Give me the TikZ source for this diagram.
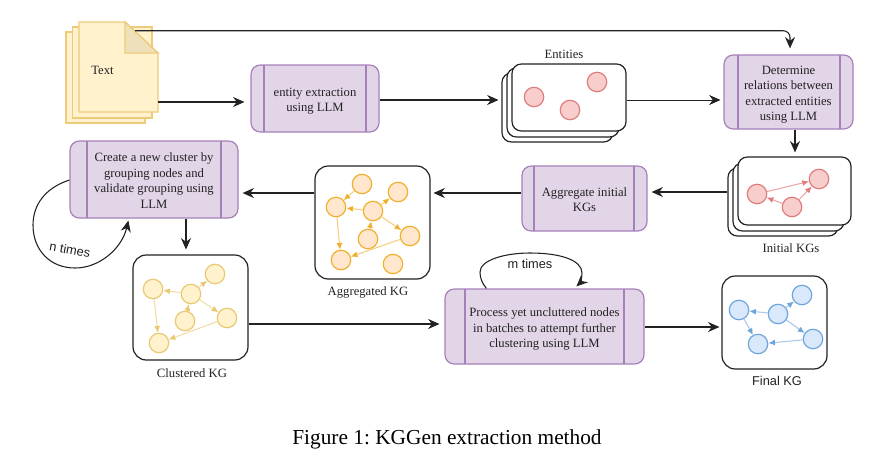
\documentclass[tikz,border=0pt]{standalone}
\usepackage{fontspec}
\usetikzlibrary{arrows.meta,calc}
\newfontfamily\boxfont{Liberation Serif}
\newfontfamily\labfont{Liberation Sans}
\frenchspacing
\definecolor{purF}{HTML}{E1D5E7}\definecolor{purS}{HTML}{A680B8}
\definecolor{docF}{HTML}{FFF2CC}\definecolor{docS}{HTML}{EDCB7A}\definecolor{docD}{HTML}{EFE0BC}
\definecolor{redF}{HTML}{F8CECC}\definecolor{redS}{HTML}{E07C7C}\definecolor{redE}{HTML}{EFA6A6}
\definecolor{oraF}{HTML}{FFE6CC}\definecolor{oraS}{HTML}{EFB02E}\definecolor{oraE}{HTML}{F5CF80}
\definecolor{yelF}{HTML}{FFF2CC}\definecolor{yelS}{HTML}{E8C870}\definecolor{yelE}{HTML}{F0DFA8}
\definecolor{bluF}{HTML}{DAE8FC}\definecolor{bluS}{HTML}{6FA5DD}\definecolor{bluE}{HTML}{A9C8EA}
\definecolor{ink}{HTML}{222222}
\tikzset{
  x=0.75pt,y=-0.75pt,
  proc/.style={draw=purS,fill=purF,line width=0.9pt,rounded corners=7pt,inner sep=0pt,font=\boxfont\fontsize{9.5}{11.6}\selectfont,text=ink},
  panel/.style={draw=ink,fill=white,line width=0.9pt,rounded corners=#1,inner sep=0pt},
  conn/.style={draw=ink,line width=0.8pt,-{Stealth[length=8.5pt,width=7.5pt]}},
  loopconn/.style={draw=ink,line width=0.8pt,-{Stealth[length=8.5pt,width=7.5pt]}},
  caplab/.style={font=\boxfont\fontsize{9.5}{11}\selectfont,text=ink,inner sep=0pt},
  sanslab/.style={font=\labfont\fontsize{9.6}{11}\selectfont,text=ink,inner sep=0pt},
  sheet/.style={draw=docS,fill=docF,line width=1pt,inner sep=0pt},
  kgnode/.style={circle,inner sep=0pt,minimum size=14.6pt,line width=0.9pt},
  rednode/.style={kgnode,draw=redS,fill=redF},
  oranode/.style={kgnode,draw=oraS,fill=oraF},
  yelnode/.style={kgnode,draw=yelS,fill=yelF},
  blunode/.style={kgnode,draw=bluS,fill=bluF},
  rededge/.style={draw=redE,line width=0.8pt,-{Latex[length=5pt,width=4.5pt,color=redS]}},
  oraedge/.style={draw=oraE,line width=0.8pt,-{Latex[length=5pt,width=4.5pt,color=oraS]}},
  yeledge/.style={draw=yelE,line width=0.8pt,-{Latex[length=5pt,width=4.5pt,color=yelS]}},
  bluedge/.style={draw=bluE,line width=0.8pt,-{Latex[length=5pt,width=4.5pt,color=bluS]}},
}
% name, x1, y1, x2, y2, inner left, inner right, text
\newcommand{\procbox}[8]{%
  \node[proc,minimum width={(#4-#2)*0.75pt},minimum height={(#5-#3)*0.75pt}] (#1) at ({(#2+#4)/2},{(#3+#5)/2}) {\raisebox{-4.2pt}[0pt][0pt]{\begin{tabular}{@{}c@{}}#8\end{tabular}}};
  \draw[purS,line width=0.9pt] (#6,#3) -- (#6,#5) (#7,#3) -- (#7,#5);
}
% name, x1, y1, x2, y2, radius
\newcommand{\panelbox}[6]{%
  \node[panel=#6,minimum width={(#4-#2)*0.75pt},minimum height={(#5-#3)*0.75pt}] (#1) at ({(#2+#4)/2},{(#3+#5)/2}) {};
}
\begin{document}
\begin{tikzpicture}
\useasboundingbox (0,0) rectangle (896,465);
\fill[white] (0,0) rectangle (896,465);

% Text document stack
\draw[sheet] (66,32) rectangle (145,123);
\draw[sheet] (72.5,27) rectangle (152,118);
\node[minimum width=59.25pt,minimum height=67.5pt,inner sep=0pt] (doc) at (118.5,67) {};
\draw[sheet] (79,22) -- (125,22) -- (158,53) -- (158,112) -- (79,112) -- cycle;
\draw[sheet,fill=docD] (125,22) -- (158,53) -- (125,53) -- cycle;
\node[caplab] (doctext) at (102.5,70) {Text};

% Process boxes
\procbox{ent}{251}{65}{379}{132}{264}{366}{entity extraction\\using LLM}
\procbox{det}{724}{55}{853}{129}{738}{840}{Determine\\relations between\\extracted entities\\using LLM}
\procbox{agg}{522}{166}{647}{231}{534}{634}{Aggregate initial\\KGs}
\procbox{create}{70}{141}{238}{218}{87}{221}{Create a new cluster by\\grouping nodes and\\validate grouping using\\LLM}
\procbox{proc}{445}{289}{644}{364}{465}{624}{Process yet uncluttered nodes\\in batches to attempt further\\clustering using LLM}

% Entities
\panelbox{entB}{502}{73}{613}{142}{7pt}
\panelbox{entM}{507}{68}{619}{137}{7pt}
\panelbox{entF}{512}{64}{626}{131}{7pt}
\node[caplab] (entlab) at (564,54) {Entities};
\node[rednode] (e1) at (534,97) {};
\node[rednode] (e2) at (597,82) {};
\node[rednode] (e3) at (570,110) {};

% Initial KGs
\panelbox{ikgB}{728}{168}{838}{236}{7pt}
\panelbox{ikgM}{733}{163}{844}{231}{7pt}
\panelbox{ikgF}{738}{157}{851}{225}{7pt}
\node[caplab] (ikglab) at (791,248) {Initial KGs};
\node[rednode] (i1) at (757,194) {};
\node[rednode] (i2) at (819,179) {};
\node[rednode] (i3) at (792,207) {};
\draw[rededge] (i1) -- (i2);
\draw[rededge] (i3) -- (i1);
\draw[rededge] (i3) -- (i2);

% Aggregated KG
\panelbox{aggk}{315}{166}{430}{279}{10pt}
\node[caplab] (agglab) at (368,292) {Aggregated KG};
\node[oranode] (a1) at (362,184) {};
\node[oranode] (a2) at (398,192) {};
\node[oranode] (a3) at (336,207) {};
\node[oranode] (a4) at (373,211) {};
\node[oranode] (a5) at (368,239) {};
\node[oranode] (a6) at (410,236) {};
\node[oranode] (a7) at (341,260) {};
\node[oranode] (a8) at (393,264) {};
\draw[oraedge] (a1) -- (a3);
\draw[oraedge] (a4) -- (a3);
\draw[oraedge] (a4) -- (a2);
\draw[oraedge] (a5) -- (a4);
\draw[oraedge] (a4) -- (a6);
\draw[oraedge] (a6) -- (a7);
\draw[oraedge] (a3) -- (a7);

% Clustered KG
\panelbox{clu}{133}{255}{248}{360}{10pt}
\node[caplab] (clulab) at (192,373) {Clustered KG};
\node[yelnode] (c1) at (215,274) {};
\node[yelnode] (c2) at (153,289) {};
\node[yelnode] (c3) at (191,294) {};
\node[yelnode] (c4) at (185,321) {};
\node[yelnode] (c5) at (227,318) {};
\node[yelnode] (c6) at (159,343) {};
\draw[yeledge] (c3) -- (c2);
\draw[yeledge] (c3) -- (c1);
\draw[yeledge] (c4) -- (c3);
\draw[yeledge] (c3) -- (c5);
\draw[yeledge] (c5) -- (c6);
\draw[yeledge] (c2) -- (c6);

% Final KG
\panelbox{fin}{722}{276}{827}{369}{10pt}
\node[sanslab] (finlab) at (777,381) {Final KG};
\node[blunode] (f1) at (802,295) {};
\node[blunode] (f2) at (739,310) {};
\node[blunode] (f3) at (778,314) {};
\node[blunode] (f4) at (813,339) {};
\node[blunode] (f5) at (758,344) {};
\draw[bluedge] (f3) -- (f1);
\draw[bluedge] (f3) -- (f2);
\draw[bluedge] (f3) -- (f4);
\draw[bluedge] (f4) -- (f5);
\draw[bluedge] (f2) -- (f5);

% Connectors
\draw[conn,shorten >=4.5pt] ([shift={(0,35)}]doc.east) -- ([shift={(0,3.5)}]ent.west);
\draw[conn,rounded corners=5pt,shorten >=4.5pt] ([shift={(16.5,9)}]doc.north) -| ([shift={(1.5,0)}]det.north);
\draw[conn,shorten >=2.2pt] ([shift={(0,1.5)}]ent.east) -- ([shift={(0,-7.5)}]entB.west);
\draw[conn,line width=0.6pt,shorten >=2.2pt] ([shift={(0,2.5)}]entF.east) -- ([shift={(0,8)}]det.west);
\draw[conn,shorten >=3pt] ([shift={(6.5,0)}]det.south) -- ([shift={(0.5,0)}]ikgF.north);
\draw[conn,shorten >=3pt] ([shift={(0,-10)}]ikgB.west) -- ([shift={(0,-6.5)}]agg.east);
\draw[conn,shorten >=2.2pt] ([shift={(0,-5.5)}]agg.west) -- ([shift={(0,-29.5)}]aggk.east);
\draw[conn,shorten >=3pt] ([shift={(0,-29.5)}]aggk.west) -- ([shift={(0,13.5)}]create.east);
\draw[conn,shorten >=3.7pt] ([shift={(32,0)}]create.south) -- ([shift={(-4.5,0)}]clu.north);
\draw[conn,shorten >=3.7pt] ([shift={(0,16.5)}]clu.east) -- ([shift={(0,-2.5)}]proc.west);
\draw[conn,shorten >=1.5pt] ([shift={(0,0.5)}]proc.east) -- ([shift={(0,4.5)}]fin.west);

% Loops
\draw[loopconn] ([shift={(0,0.5)}]create.west) .. controls (45,188) and (33,205) .. (33,225)
  .. controls (33,250) and (50,268) .. (75,268) .. controls (100,268) and (122,248) .. ([shift={(59,2)}]create.south west);
\node[sanslab,rotate=-10] (ntimes) at (70,250) {n times};
\draw[loopconn] ([shift={(42,0)}]proc.north west) .. controls (482,283) and (480,278) .. (480,272)
  .. controls (480,260) and (505,253) .. (530,253) .. controls (560,253) and (582,260) .. (582,273)
  .. controls (582,278) and (580,283) .. ([shift={(132,-2)}]proc.north west);
\node[sanslab] (mtimes) at (530,264) {m times};

% Caption
\node[inner sep=0pt,font=\boxfont\fontsize{16}{18}\selectfont,text=black] (caption) at (447,439) {Figure 1: KGGen extraction method};
\end{tikzpicture}
\end{document}
